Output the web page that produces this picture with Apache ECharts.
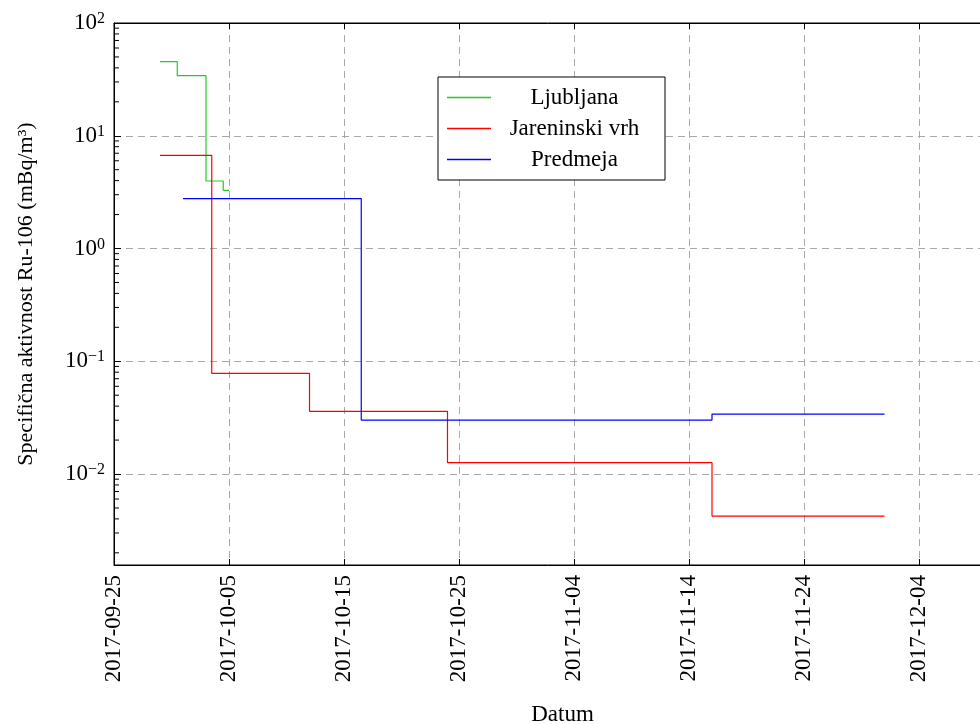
<!DOCTYPE html>
<html>
<head>
<meta charset="utf-8">
<script src="https://cdn.jsdelivr.net/npm/echarts@6/dist/echarts.min.js"></script>
<style>
  html, body { margin: 0; padding: 0; background: #fff; }
  #chart { width: 980px; height: 724px; }
</style>
</head>
<body>
<div id="chart"></div>
<script>
// Ljubljana
const ljubljanaDates = ['2017-09-29T00:00', '2017-09-30T12:00', '2017-10-03T00:00', '2017-10-04T12:00', '2017-10-05T00:00'];
const ljubljanaValues = [45.4, 34.1, 3.97, 3.28, 3.28];

// Jareninski vrh
const jareninskiDates = ['2017-09-29T00:00', '2017-10-03T12:00', '2017-10-12T00:00', '2017-10-24T00:00', '2017-11-16T00:00', '2017-12-01T00:00'];
const jareninskiValues = [6.71, 0.078, 0.036, 0.0126, 0.00424, 0.00424];

// Predmeja
const predmejaDates = ['2017-10-01T00:00', '2017-10-16T12:00', '2017-11-01T00:00', '2017-11-16T00:00', '2017-12-01T00:00'];
const predmejaValues = [2.77, 0.0301, 0.0301, 0.034, 0.034];

const seriesNames = ['Ljubljana', 'Jareninski vrh', 'Predmeja'];
const seriesColors = ['#22cc22', '#ff0000', '#0000ff'];

// axis ranges
const xStart = '2017-09-25T00:00';
const xEnd = '2017-12-12T00:00';
const xStepDays = 10;
const yMin = 0.00156;
const yMax = 100;

// minor ticks of the log axis
const minorFactors = [2, 3, 4, 5, 6, 7, 8, 9];
const minorDecades = [0.001, 0.01, 0.1, 1, 10];

const FONT = '"Liberation Serif", "DejaVu Serif", serif';
const FS = 23;
const DAY = 86400000;
const toMs = s => Date.parse(s + 'Z');
const xMin = toMs(xStart);
const xMax = toMs(xEnd);

const pairs = (dates, values) => dates.map((d, i) => [toMs(d), values[i]]);

const minorTicks = [];
minorDecades.forEach(d => minorFactors.forEach(f => {
  const v = d * f;
  if (v >= yMin && v <= yMax) minorTicks.push([xMin, v]);
}));

// centre legend labels inside a fixed-width box
const ctx = document.createElement('canvas').getContext('2d');
ctx.font = FS + 'px "Liberation Serif"';
const legendTextW = 157;
const legendRich = {};
seriesNames.forEach((n, i) => {
  const w = ctx.measureText(n).width;
  const pad = Math.max(0, (legendTextW - w) / 2);
  legendRich['t' + i] = { fontSize: FS, fontFamily: FONT, color: '#000', padding: [0, pad, 0, pad] };
});

const chart = echarts.init(document.getElementById('chart'));

const stepLine = (name, data, color) => ({
  name: name,
  type: 'line',
  step: 'end',
  data: data,
  symbol: 'none',
  lineStyle: { color: color, width: 1.2 },
  itemStyle: { color: color },
  z: 5
});

const fmtDate = v => {
  const d = new Date(v);
  return d.getUTCFullYear() + '-' + String(d.getUTCMonth() + 1).padStart(2, '0') + '-' + String(d.getUTCDate()).padStart(2, '0');
};

const gridDash = { color: '#a8a8a8', type: [7, 5], width: 1 };

chart.setOption({
  animation: false,
  backgroundColor: '#fff',
  textStyle: { fontFamily: FONT },
  grid: {
    left: 114, top: 23, right: -31, bottom: 159,
    containLabel: false,
    outerBoundsMode: 'none',
    show: true, borderColor: '#000', borderWidth: 1
  },
  legend: {
    data: seriesNames,
    orient: 'vertical',
    left: 438, top: 77,
    padding: [8, 12, 8, 9],
    itemGap: 6,
    itemWidth: 44,
    itemHeight: 1.5,
    itemTextGap: 7,
    icon: 'rect',
    backgroundColor: '#fff',
    borderColor: '#000',
    borderWidth: 1,
    borderRadius: 0,
    formatter: name => '{t' + seriesNames.indexOf(name) + '|' + name + '}',
    textStyle: { fontSize: FS, lineHeight: 25, rich: legendRich }
  },
  xAxis: [{
    type: 'value',
    min: xMin, max: xMax,
    interval: xStepDays * DAY,
    name: 'Datum',
    nameLocation: 'middle',
    nameGap: 138,
    nameTextStyle: { fontSize: FS, color: '#000', fontFamily: FONT },
    axisLine: { show: true, lineStyle: { color: '#000' } },
    axisTick: { show: true, inside: true, length: 6, lineStyle: { color: '#000' } },
    axisLabel: {
      rotate: 90, margin: 10, fontSize: FS, color: '#000', fontFamily: FONT,
      showMaxLabel: false,
      formatter: fmtDate
    },
    splitLine: { show: true, lineStyle: gridDash }
  }, {
    type: 'value',
    position: 'top',
    min: xMin, max: xMax,
    interval: xStepDays * DAY,
    axisLine: { show: true, lineStyle: { color: '#000' } },
    axisTick: { show: true, inside: true, length: 6, lineStyle: { color: '#000' } },
    axisLabel: { show: false },
    splitLine: { show: false }
  }],
  yAxis: {
    type: 'log',
    logBase: 10,
    min: yMin, max: yMax,
    name: 'Specifična aktivnost Ru-106 (mBq/m³)',
    nameLocation: 'middle',
    nameGap: 77,
    nameTextStyle: { fontSize: FS - 1, color: '#000', fontFamily: FONT },
    axisLine: { show: true, lineStyle: { color: '#000' } },
    axisTick: { show: true, inside: true, length: 7, lineStyle: { color: '#000' } },
    axisLabel: {
      margin: 9,
      showMinLabel: false,
      fontSize: FS,
      color: '#000',
      fontFamily: FONT,
      formatter: v => {
        const e = Math.round(Math.log10(v));
        return '{b|10}{s|' + (e < 0 ? '\u2212' + (-e) : e) + '}';
      },
      rich: {
        b: { fontSize: FS, fontFamily: FONT, color: '#000' },
        s: { fontSize: 16, fontFamily: FONT, color: '#000', verticalAlign: 'top', padding: [0, 0, 8, 0] }
      }
    },
    splitLine: { show: true, lineStyle: gridDash }
  },
  series: [
    stepLine(seriesNames[0], pairs(ljubljanaDates, ljubljanaValues), seriesColors[0]),
    stepLine(seriesNames[1], pairs(jareninskiDates, jareninskiValues), seriesColors[1]),
    stepLine(seriesNames[2], pairs(predmejaDates, predmejaValues), seriesColors[2]),
    {
      type: 'custom',
      name: 'minor',
      silent: true,
      data: minorTicks,
      encode: { x: 0, y: 1 },
      z: 3,
      renderItem: (params, api) => {
        const p = api.coord([api.value(0), api.value(1)]);
        return {
          type: 'line',
          shape: { x1: p[0], y1: p[1], x2: p[0] + 5, y2: p[1] },
          style: { stroke: '#000', lineWidth: 1 }
        };
      }
    }
  ]
});
</script>
</body>
</html>
